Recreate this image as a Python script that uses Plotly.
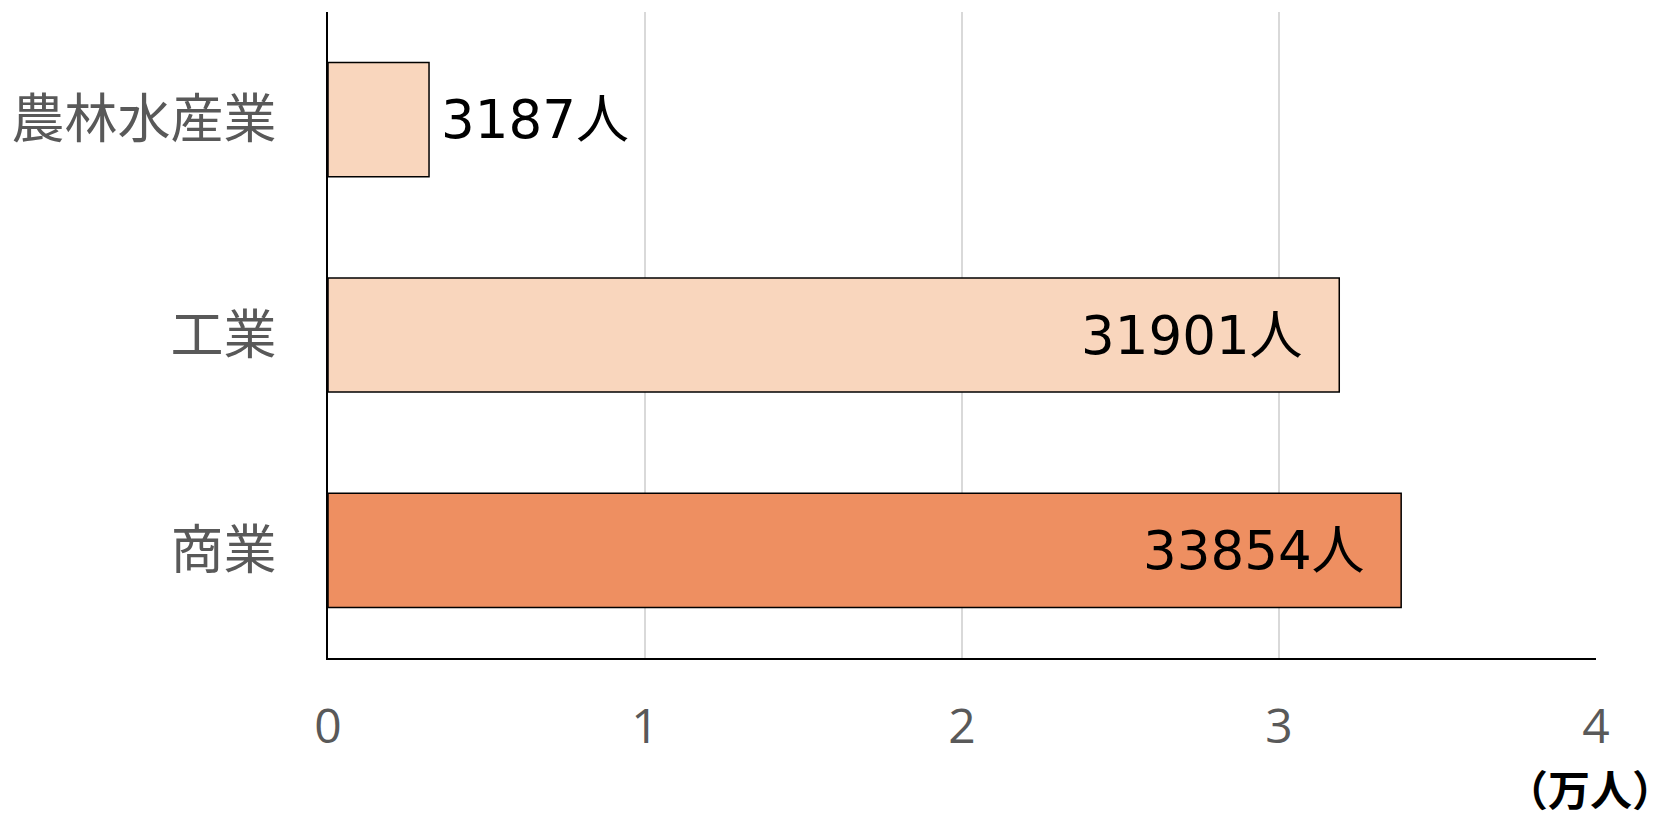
import plotly.graph_objects as go

categories = ["農林水産業", "工業", "商業"]
values = [3187, 31901, 33854]
bar_colors = ["#F9D6BD", "#F9D6BD", "#EE8F61"]
tick_vals = [0, 1, 2, 3, 4]
tick_text = ["0", "1", "2", "3", "4"]
label_pos = ["outside", "inside", "inside"]
unit_label = "（万人）"

x_vals = [v / 10000 for v in values]

fig = go.Figure()
fig.add_trace(go.Bar(
    x=x_vals, y=categories, orientation="h",
    marker=dict(color=bar_colors, line=dict(color="#000000", width=1.5)),
    width=0.53,
    hoverinfo="skip",
))

for cat, v, xv, pos in zip(categories, values, x_vals, label_pos):
    fig.add_annotation(
        x=xv, y=cat, xref="x", yref="y",
        text=f"{v}人", showarrow=False,
        xanchor="left" if pos == "outside" else "right",
        xshift=10 if pos == "outside" else -34,
        font=dict(family="DejaVu Sans, Noto Sans CJK JP", size=53, color="#000000"),
    )

fig.add_annotation(
    x=1.0, y=0, xref="paper", yref="paper", yanchor="middle", xanchor="right",
    xshift=80, yshift=-129,
    text=unit_label, showarrow=False,
    font=dict(family="Noto Sans CJK JP", size=42, color="#000000", weight="bold"),
)

fig.update_layout(
    width=1669, height=810,
    margin=dict(l=320, r=81, t=4, b=160),
    plot_bgcolor="#FFFFFF", paper_bgcolor="#FFFFFF",
    showlegend=False,
    xaxis=dict(
        range=[0, 4], tickvals=tick_vals, ticktext=tick_text,
        showgrid=True, gridcolor="#D9D9D9", gridwidth=1.5,
        zeroline=False, showline=True, linecolor="#000000", linewidth=2,
        ticks="", ticklabelstandoff=25,
        tickfont=dict(family="Open Sans, Noto Sans", size=48, color="#595959"),
        fixedrange=True,
    ),
    yaxis=dict(
        categoryorder="array", categoryarray=categories, autorange="reversed",
        showgrid=False, zeroline=False, showline=True, linecolor="#000000", linewidth=2,
        ticks="", ticklabelstandoff=39,
        tickfont=dict(family="Noto Sans CJK JP", size=53, color="#595959"),
        fixedrange=True,
    ),
    bargap=0.47,
)

fig.write_html("out.html")
